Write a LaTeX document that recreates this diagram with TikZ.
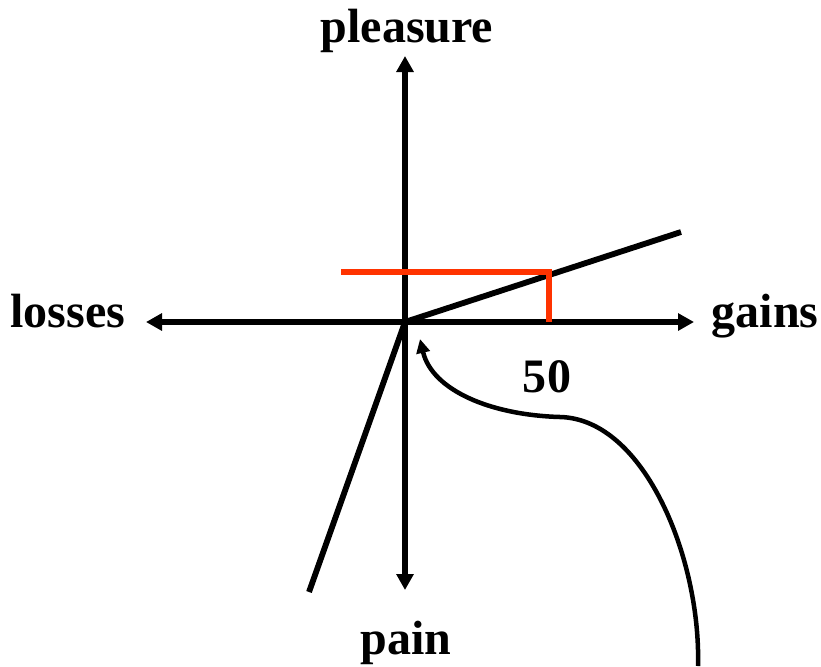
\documentclass[tikz,border=0pt]{standalone}
\usepackage{fontspec}
\setmainfont{Liberation Serif}
\definecolor{brightred}{RGB}{255,51,0}
\usetikzlibrary{arrows.meta,positioning,calc}
\tikzset{
    axisline/.style={line width=0.175cm, -{Triangle[length=0.48cm,width=0.5cm]}},
    valueline/.style={line width=0.175cm},
    markline/.style={line width=0.175cm, color=brightred},
    axislabel/.style={anchor=base, inner sep=0pt, font=\fontsize{41}{48}\selectfont\bfseries}
}
\begin{document}
\begin{tikzpicture}[x=0.03cm, y=-0.03cm]
            \useasboundingbox (0,0) rectangle (821,666);
            % axes
            \coordinate (origin) at (405,322);
            \coordinate (up) at (405,56);
            \coordinate (down) at (405,590);
            \coordinate (left) at (146,322);
            \coordinate (right) at (694,322);
            \node[axislabel] (pleasure) at (407,42) {pleasure};
            \node[axislabel] (pain) at (406,654) {pain};
            \node[axislabel] (losses) at (68,327) {losses};
            \node[axislabel] (gains) at (765,327) {gains};
            \node[axislabel] (fifty) at (547,392) {50};
            \draw[axisline] (origin) -- (up);
            \draw[axisline] (origin) -- (down);
            \draw[axisline] (origin) -- (left);
            \draw[axisline] (origin) -- (right);
            % value function
            \coordinate (gainend) at (681,232);
            \coordinate (lossend) at (309,592);
            \draw[valueline] (lossend) -- (origin) -- (gainend);
            % reading off 50
            \coordinate (onaxis) at (549,322);
            \coordinate (oncurve) at (549,272);
            \coordinate (onvert) at (341,272);
            \draw[markline] (onaxis) -- (oncurve) -- (onvert);
            % pointer to the kink
            \coordinate (tail) at (698,666);
            \coordinate (bend) at (560,417);
            \coordinate (kink) at (420,339);
            \draw[line width=0.135cm, -{Triangle[length=0.42cm,width=0.4cm]}]
                (tail) .. controls (701,560) and (645,419) .. (bend)
                .. controls (490,415) and (432,390) .. (kink);
        \end{tikzpicture}
\end{document}
